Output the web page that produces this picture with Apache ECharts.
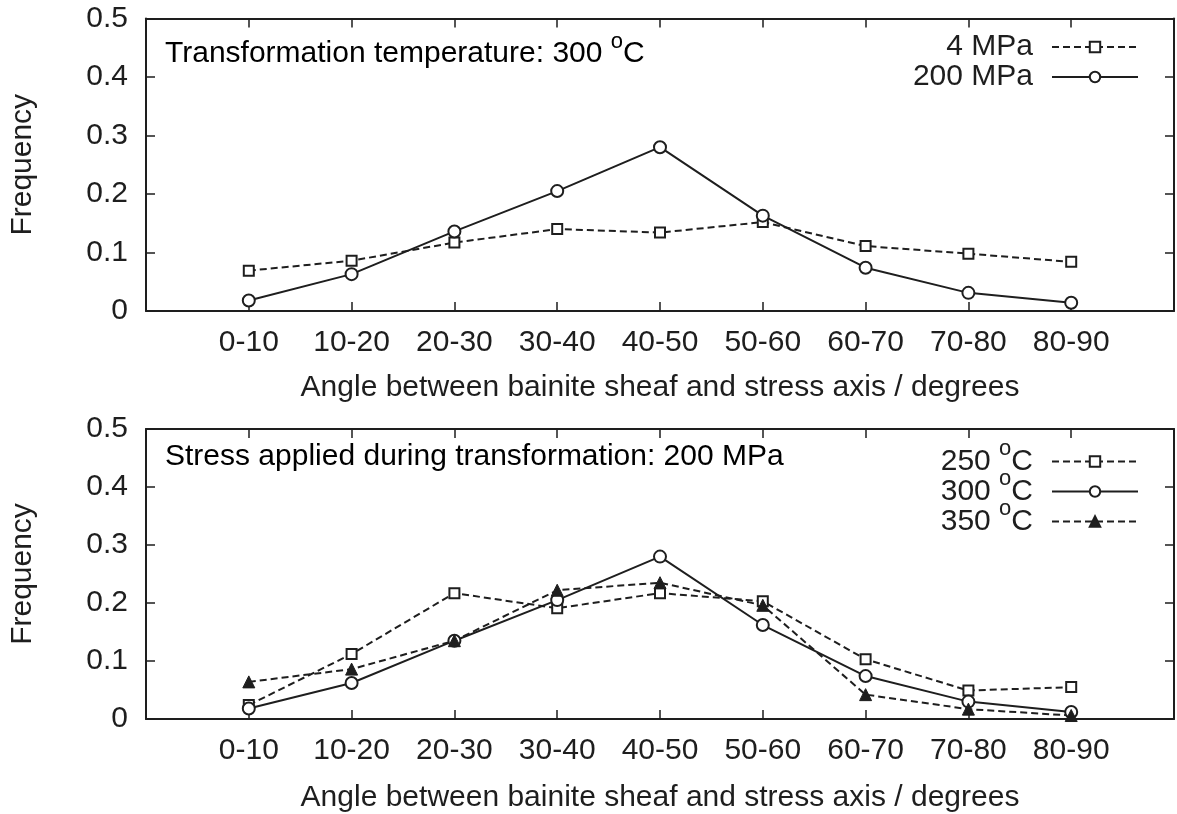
<!DOCTYPE html>
<html>
<head>
<meta charset="utf-8">
<title>Bainite sheaf orientation</title>
<script src="https://cdn.jsdelivr.net/npm/echarts@6/dist/echarts.min.js"></script>
<style>
  html, body { margin: 0; padding: 0; background: #fff; }
  #chart { width: 1177px; height: 814px; }
</style>
</head>
<body>
<div id="chart"></div>
<script>
// Angle classes (degrees) between bainite sheaf and stress axis
const categories = ['0-10', '10-20', '20-30', '30-40', '40-50', '50-60', '60-70', '70-80', '80-90'];
const yTicks = [0, 0.1, 0.2, 0.3, 0.4, 0.5];

// Upper panel: transformation at 300 °C under two stresses
const stress4MPa   = [0.069, 0.086, 0.117, 0.140, 0.134, 0.152, 0.111, 0.098, 0.084];
const stress200MPa = [0.018, 0.063, 0.136, 0.205, 0.280, 0.163, 0.074, 0.031, 0.014];

// Lower panel: 200 MPa applied at three transformation temperatures
const temp250 = [0.024, 0.112, 0.217, 0.191, 0.217, 0.203, 0.103, 0.049, 0.055];
const temp300 = [0.018, 0.062, 0.135, 0.205, 0.280, 0.162, 0.074, 0.030, 0.012];
const temp350 = [0.064, 0.086, 0.135, 0.222, 0.235, 0.196, 0.042, 0.017, 0.006];

const FONT = '"Liberation Sans", Arial, Helvetica, sans-serif';
const INK = '#1e1e1e';
const FS = 30;

// x positions: category i sits at i+1 on a 0..10 scale
const toPoints = vals => vals.map((v, i) => [i + 1, v]);

// rich-text styles: main text and raised small "o" for the degree sign
const richText = {
  t: { fontFamily: FONT, fontSize: FS, color: INK, lineHeight: 30 },
  s: { fontFamily: FONT, fontSize: 22, color: INK, lineHeight: 14, verticalAlign: 'bottom', padding: [0, 0, 16, 0] }
};
const legendRich = {
  t: { fontFamily: FONT, fontSize: FS, color: INK, lineHeight: 29 },
  tr: { fontFamily: FONT, fontSize: FS, color: INK, lineHeight: 29, padding: [0, 14, 0, 0] },
  s: { fontFamily: FONT, fontSize: 22, color: INK, lineHeight: 13, verticalAlign: 'bottom', padding: [0, 0, 16, 0] }
};

const grids = [
  { left: 146, right: 3, top: 18.5, height: 292.5 },
  { left: 146, right: 3, top: 429, height: 294 }
];

function xAxes(gi, nameGap) {
  const common = {
    type: 'value', gridIndex: gi, min: 0, max: 10, interval: 1,
    axisLine: { show: true, onZero: false, lineStyle: { color: INK, width: 2 } },
    axisTick: { show: true, inside: true, length: 9, lineStyle: { color: INK, width: 1.5 } },
    splitLine: { show: false }
  };
  return [
    Object.assign({}, common, {
      position: 'bottom',
      name: 'Angle between bainite sheaf and stress axis / degrees',
      nameLocation: 'middle', nameGap: nameGap,
      nameTextStyle: { fontFamily: FONT, fontSize: FS, color: INK },
      axisLabel: {
        margin: 17, fontFamily: FONT, fontSize: FS, color: INK,
        formatter: v => categories[v - 1] || ''
      }
    }),
    Object.assign({}, common, { position: 'top', axisLabel: { show: false } })
  ];
}

function yAxes(gi) {
  const common = {
    type: 'value', gridIndex: gi, min: yTicks[0], max: yTicks[yTicks.length - 1], interval: 0.1,
    axisLine: { show: true, onZero: false, lineStyle: { color: INK, width: 2 } },
    axisTick: { show: true, inside: true, length: 9, lineStyle: { color: INK, width: 1.5 } },
    splitLine: { show: false }
  };
  return [
    Object.assign({}, common, {
      position: 'left',
      name: 'Frequency', nameLocation: 'middle', nameGap: 108, nameRotate: 90,
      nameTextStyle: { fontFamily: FONT, fontSize: FS, color: INK },
      axisLabel: {
        margin: 18, fontFamily: FONT, fontSize: FS, color: INK,
        formatter: v => (v === 0 ? '0' : v.toFixed(1))
      }
    }),
    Object.assign({}, common, { position: 'right', axisLabel: { show: false } })
  ];
}

const dashed = { color: INK, width: 2, type: [7, 4] };
const solid = { color: INK, width: 2, type: 'solid' };
const openMark = { color: '#fff', borderColor: INK, borderWidth: 2 };
const filledMark = { color: INK, borderColor: INK, borderWidth: 1 };

function lineSeries(name, vals, xi, yi, symbol, size, lineStyle, itemStyle) {
  return {
    name: name, type: 'line', xAxisIndex: xi, yAxisIndex: yi,
    data: toPoints(vals), symbol: symbol, symbolSize: size,
    showAllSymbol: true, animation: false,
    lineStyle: lineStyle, itemStyle: itemStyle,
    emphasis: { disabled: true }
  };
}

const legendCommon = {
  orient: 'vertical', align: 'right', itemWidth: 86, itemHeight: 13, itemGap: 0,
  padding: 0, inactiveColor: INK, selectedMode: false,
  textStyle: { fontFamily: FONT, fontSize: FS, color: INK, lineHeight: 29, rich: legendRich }
};

const option = {
  backgroundColor: '#fff',
  animation: false,
  grid: grids,
  xAxis: [].concat(xAxes(0, 62), xAxes(1, 64)),
  yAxis: [].concat(yAxes(0), yAxes(1)),
  legend: [
    Object.assign({}, legendCommon, {
      right: 38, top: 32,
      data: ['4 MPa', '200 MPa'],
      formatter: n => '{tr|' + n + '}'
    }),
    Object.assign({}, legendCommon, {
      right: 38, top: 438, itemGap: -8.5,
      data: ['250 °C', '300 °C', '350 °C'],
      formatter: n => '{t|' + n.replace(' °C', ' ') + '}{s|o}{tr|C}'
    })
  ],
  graphic: [
    {
      type: 'text', left: 165, top: 31,
      style: { rich: richText, text: '{t|Transformation temperature: 300 }{s|o}{t|C}' }
    },
    {
      type: 'text', left: 165, top: 442,
      style: { rich: richText, text: '{t|Stress applied during transformation: 200 MPa}' }
    }
  ],
  series: [
    lineSeries('4 MPa', stress4MPa, 0, 0, 'rect', 10, dashed, openMark),
    lineSeries('200 MPa', stress200MPa, 0, 0, 'circle', 12, solid, openMark),
    lineSeries('250 °C', temp250, 2, 2, 'rect', 10, dashed, openMark),
    lineSeries('300 °C', temp300, 2, 2, 'circle', 12, solid, openMark),
    lineSeries('350 °C', temp350, 2, 2, 'triangle', 12, dashed, filledMark)
  ]
};

const chart = echarts.init(document.getElementById('chart'), null, { renderer: 'canvas' });
chart.setOption(option);
</script>
</body>
</html>
